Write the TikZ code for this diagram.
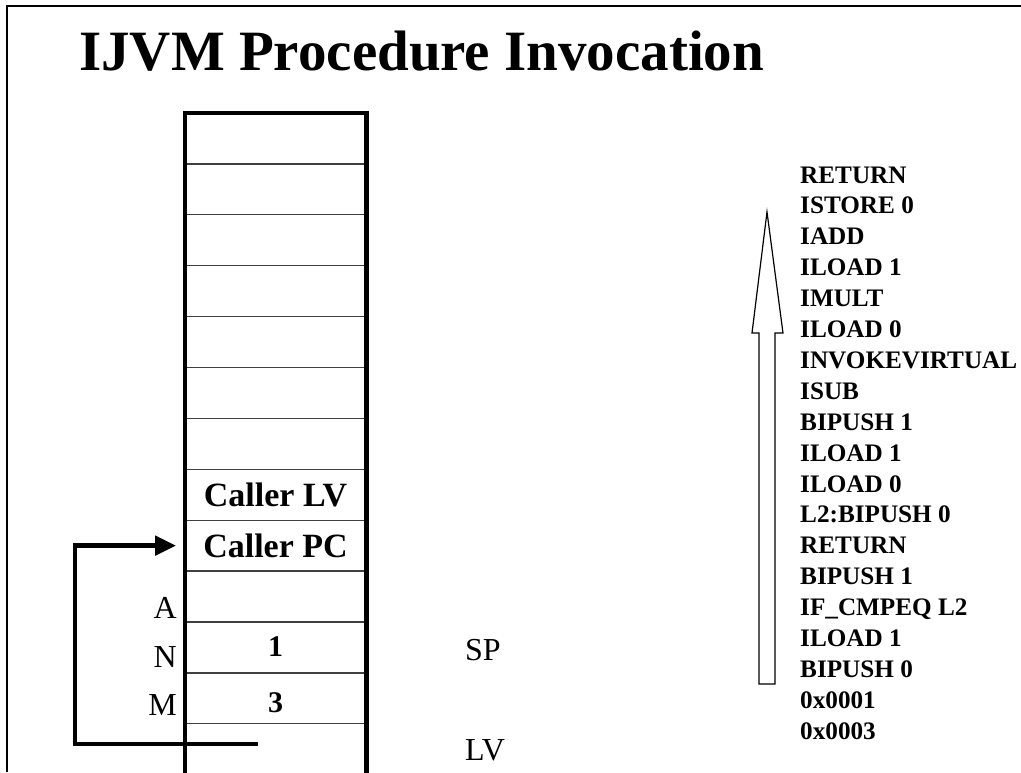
\documentclass[tikz,border=0pt]{standalone}
\usepackage{fontspec}
\setmainfont{Liberation Serif}
\usetikzlibrary{arrows.meta}
\begin{document}
\begin{tikzpicture}[x=1pt,y=-1pt,
  cell/.style={draw=black!75, line width=1.3pt, minimum width=181.5pt, minimum height=50.9pt, inner sep=0pt, anchor=center},
  border/.style={line width=4.2pt},
  big/.style={font=\bfseries\fontsize{34}{38}\selectfont},
  num/.style={font=\bfseries\fontsize{30}{34}\selectfont, inner sep=0pt},
  lbl/.style={font=\fontsize{32}{36}\selectfont, inner sep=0pt},
  instr/.style={font=\bfseries\fontsize{25.2}{29}\selectfont, anchor=base west, inner sep=0pt},
  loopline/.style={line width=4.8pt, -{Triangle[length=21pt,width=19pt]}, shorten >=8pt},
  hollow/.style={draw=black, line width=1.2pt, fill=white}]
\useasboundingbox (0,0) rectangle (1021,772);
% frame
\draw[line width=1.5pt] (7,772) -- (7,6) -- (1025,6);
% title
\node[font=\bfseries\fontsize{57}{60}\selectfont, anchor=base west, inner sep=0pt] (title) at (79,70) {IJVM Procedure Invocation};
% stack cells
\foreach \k in {1,...,13} {
  \node[cell] (c\k) at (275.5, {113+50.9*(\k-0.5)}) {};
}
\node[big] (clv) at (c8.center) {Caller LV};
\node[big] (cpc) at (c9.center) {Caller PC};
\node[num] (n1) at ([yshift=1pt]c11.center) {1};
\node[num] (n3) at ([yshift=-4pt]c12.center) {3};
% stack border
\draw[border] (185,780) -- (185,113) -- (366.5,113) -- (366.5,780);
% side labels
\node[lbl, anchor=base east] (la) at (177,618) {A};
\node[lbl, anchor=base east] (ln) at (177,667) {N};
\node[lbl, anchor=base east] (lm) at (177,715) {M};
\node[lbl, anchor=base west] (sp) at (465,660) {SP};
\node[lbl, anchor=base west] (lv) at (465,760) {LV};
% return loop
\coordinate (lvend) at (258,744);
\coordinate (lcorner) at (75,744);
\draw[loopline] (lvend) -- (lcorner) |- (c9.west);
% hollow arrow
\draw[hollow] (759,684) -- (759,333) -- (752,333) -- (767,212) -- (783,333) -- (775,333) -- (775,684) -- cycle;
% instructions
\foreach [count=\i from 0] \t in {RETURN, ISTORE 0, IADD, ILOAD 1, IMULT, ILOAD 0, INVOKEVIRTUAL, ISUB, BIPUSH 1, ILOAD 1, ILOAD 0, L2:BIPUSH 0, RETURN, BIPUSH 1, IF\_CMPEQ L2, ILOAD 1, BIPUSH 0, 0x0001, 0x0003} {
  \node[instr] (i\i) at (800, {183+30.9*\i}) {\t};
}
\end{tikzpicture}
\end{document}
